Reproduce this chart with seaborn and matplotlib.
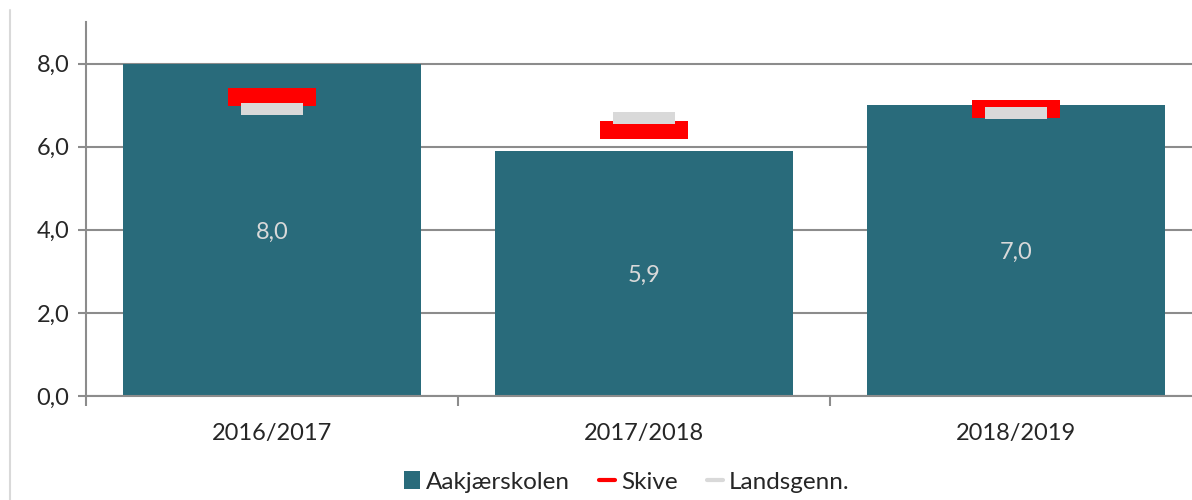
import numpy as np
import pandas as pd
import matplotlib
matplotlib.use('Agg')
from matplotlib import pyplot as plt
from matplotlib.path import Path
from matplotlib.patches import Patch
from matplotlib.lines import Line2D
from matplotlib.ticker import FixedLocator, FuncFormatter
import seaborn as sns

# data
years = ['2016/2017', '2017/2018', '2018/2019']
aakjaer = [8.0, 5.9, 7.0]
skive = [7.2, 6.4, 6.9]
landsgenn = [6.9, 6.7, 6.8]

teal = '#296b7b'
red = '#ff0000'
lightgray = '#d9d9d9'
axisgray = '#8c8c8c'

sns.set_style('white')
plt.rcParams['font.family'] = ['Lato', 'DejaVu Sans']

df = pd.DataFrame({'year': years, 'Aakjærskolen': aakjaer,
                   'Skive': skive, 'Landsgenn.': landsgenn})

fig = plt.figure(figsize=(11.92, 5), dpi=100)
ax = fig.add_axes([86 / 1192, 1 - 396 / 500, 1116 / 1192, 374 / 500])

sns.barplot(data=df, x='year', y='Aakjærskolen', color=teal, width=0.8,
            saturation=1, linewidth=0, ax=ax, zorder=2)

# flat dash markers like the Excel line series markers
dash = Path([(-1, -0.2), (1, -0.2), (1, 0.2), (-1, 0.2), (-1, -0.2)],
            [Path.MOVETO, Path.LINETO, Path.LINETO, Path.LINETO, Path.CLOSEPOLY])
sns.scatterplot(data=df, x='year', y='Skive', marker=dash, s=64 ** 2,
                color=red, linewidth=0, ax=ax, zorder=3)
sns.scatterplot(data=df, x='year', y='Landsgenn.', marker=dash, s=44 ** 2,
                color=lightgray, linewidth=0, ax=ax, zorder=4)

for i, v in enumerate(aakjaer):
    ax.text(i, v / 2 - 0.05, f'{v:.1f}'.replace('.', ','), ha='center', va='center',
            color=lightgray, fontsize=17, zorder=5)

ax.set_ylim(0, 9)
ax.set_xlim(-0.5, 2.5)
ax.set_yticks([0, 2, 4, 6, 8])
ax.yaxis.set_major_formatter(FuncFormatter(lambda v, p: f'{v:.1f}'.replace('.', ',')))
ax.set_xlabel('')
ax.set_ylabel('')

ax.grid(axis='y', color=axisgray, linewidth=1.5, zorder=0)
ax.set_axisbelow(True)
for s in ['top', 'right']:
    ax.spines[s].set_visible(False)
for s in ['left', 'bottom']:
    ax.spines[s].set_color(axisgray)
    ax.spines[s].set_linewidth(1.5)

ax.tick_params(axis='y', which='major', left=True, length=6, width=1.5,
               color=axisgray, labelsize=17, pad=6)
ax.tick_params(axis='x', which='major', bottom=False, labelsize=17, pad=16)
ax.xaxis.set_minor_locator(FixedLocator([-0.5, 0.5, 1.5, 2.5]))
ax.tick_params(axis='x', which='minor', bottom=True, length=7, width=1.5,
               color=axisgray)

handles = [Patch(facecolor=teal, edgecolor='none', label='Aakjærskolen'),
           Line2D([], [], color=red, linewidth=3, label='Skive'),
           Line2D([], [], color=lightgray, linewidth=3, label='Landsgenn.')]
fig.legend(handles=handles, loc='center', bbox_to_anchor=(0.5256, 0.036),
           ncol=3, frameon=False, fontsize=17.5, handlelength=0.66,
           handletextpad=0.25, columnspacing=1.2)

# chart area border on the left edge
fig.add_artist(Line2D([10 / 1192, 10 / 1192], [0, 1 - 10 / 500],
                      transform=fig.transFigure, color=lightgray, linewidth=1.5))

plt.savefig('out.png', dpi=100)
